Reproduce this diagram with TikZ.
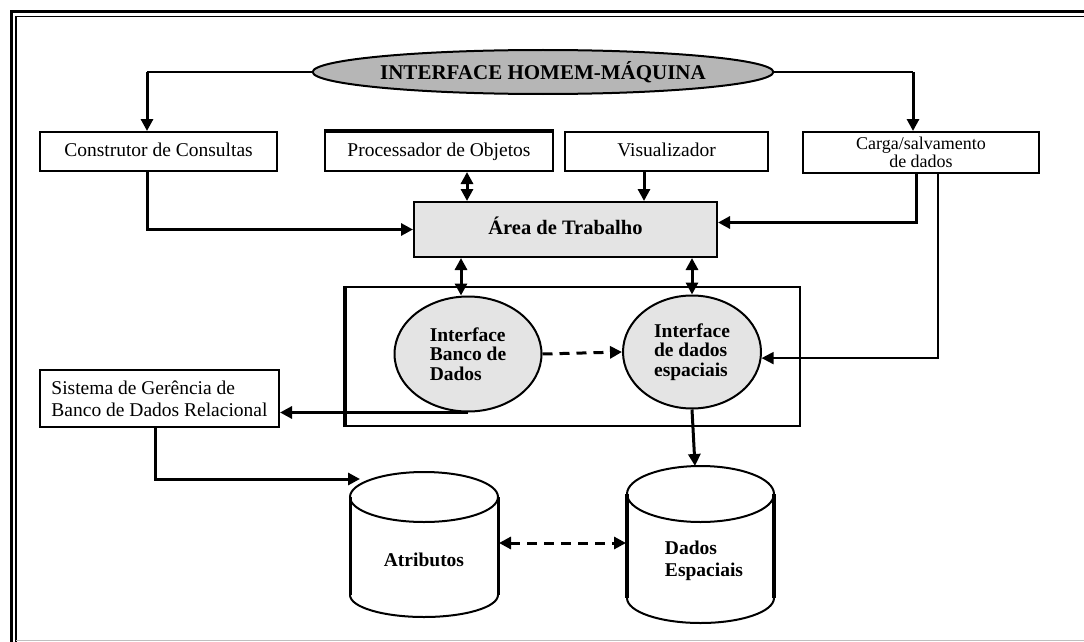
\documentclass[tikz,border=0pt]{standalone}
\usepackage{fontspec}
\setmainfont{Liberation Serif}
\usetikzlibrary{shapes.geometric,arrows.meta,backgrounds}
\definecolor{hmigray}{RGB}{182,182,182}
\definecolor{lightfill}{RGB}{228,228,228}
\begin{document}
\begin{tikzpicture}[x=1pt,y=-1pt,
  every node/.style={inner sep=0pt, text=black},
  txt/.style={font=\fontsize{19.5}{21}\selectfont},
  box/.style={draw, line width=2pt, rectangle, fill=white, txt},
  onebox/.style={box, text height=13.5pt, text depth=4.5pt},
  oval/.style={draw, line width=2pt, ellipse, fill=lightfill, align=left,
    font=\fontsize{19.5}{19.5}\selectfont\bfseries},
  tip/.style={-{Triangle[length=12pt,width=12pt]}},
  conn/.style={line width=3pt, tip},
  bconn/.style={line width=3pt, {Triangle[length=12pt,width=12pt]}-{Triangle[length=12pt,width=12pt]}},
  dconn/.style={line width=3pt, dash pattern=on 10pt off 7pt},
  cyl/.style={draw, line width=2pt, fill=white}
]
\useasboundingbox (0,0) rectangle (1084,642);
\fill[white] (0,0) rectangle (1084,642);
% frame
\draw[line width=3.5pt] (11.5,642) -- (11.5,11.5) -- (1084,11.5);
\draw[line width=1.2pt] (16,642) -- (16,16.5) -- (1084,16.5);
\draw[line width=1pt, black!25] (16,640.5) -- (1084,640.5);

% nodes
\node[draw, line width=2pt, ellipse, fill=hmigray, minimum width=380, minimum height=44,
  font=\fontsize{21}{23}\selectfont\bfseries] (hmi) at (543,72) {INTERFACE HOMEM-MÁQUINA};
\node[onebox, minimum width=237, minimum height=39] (cc) at (158.5,151.5) {Construtor de Consultas};
\node[onebox, minimum width=228, minimum height=39] (po) at (439,151.5) {Processador de Objetos};
\draw[line width=4pt] (po.north west) -- (po.north east);
\node[onebox, minimum width=203, minimum height=39] (vis) at (666.5,151.5) {Visualizador};
\node[box, minimum width=236, minimum height=41, align=center,
  font=\fontsize{18}{18.5}\selectfont] (carga) at (921,152.5) {Carga/salvamento\\de dados};
\node[onebox, fill=lightfill, minimum width=303, minimum height=55,
  font=\fontsize{20.5}{23}\selectfont\bfseries] (area) at (565.5,229.5) {Área de Trabalho};
\node[draw, line width=2pt, minimum width=454, minimum height=139] (cont) at (573,356.5) {};
\draw[line width=3.5pt] (cont.south west) -- (cont.north west);
\node[oval, minimum width=147, minimum height=115] (ibd) at (468,354) {Interface\\Banco de\\Dados};
\node[oval, minimum width=138, minimum height=113] (ide) at (692,352) {Interface\\de dados\\espaciais};
\node[box, minimum width=239, minimum height=57, align=left,
  font=\fontsize{19.5}{22}\selectfont] (sgbd) at (159.5,398.5) {Sistema de Gerência de\\Banco de Dados Relacional};

% cylinders
\draw[cyl] (350,497) -- (350,595) arc[start angle=180, end angle=0, x radius=74, y radius=22] -- (498,497);
\draw[cyl] (424,497) ellipse [x radius=74, y radius=25];
\draw[line width=3pt] (350,497) -- (350,595) (498,497) -- (498,595);
\node[txt, font=\fontsize{19.5}{21}\selectfont\bfseries] (atr) at (424,560) {Atributos};
\draw[cyl] (627,494) -- (627,598) arc[start angle=180, end angle=0, x radius=73.5, y radius=25] -- (774,494);
\draw[cyl] (700.5,494) ellipse [x radius=73.5, y radius=28];
\draw[line width=3.5pt] (627,494) -- (627,598) (774,494) -- (774,598);
\node[align=left, font=\fontsize{19.5}{22}\selectfont\bfseries] (dad) at (704,561) {Dados\\Espaciais};
\coordinate (atrin) at (360,479);
\coordinate (atrE) at (499,543);
\coordinate (dadW) at (626,543);
\coordinate (dadtop) at (695,466);

% connectors
\begin{pgfonlayer}{background}
\draw[line width=2pt] (hmi.center) -- (hmi.west);
\draw[line width=2pt] (hmi.center) -- (hmi.east);
\draw[conn] ([xshift=-2]po.north |- hmi.center) -- ([xshift=-2]po.north);
\draw[conn] ([xshift=-41.5]vis.north |- hmi.center) -- ([xshift=-41.5]vis.north);
\end{pgfonlayer}
\draw[line width=2pt] (hmi.west) -- ([xshift=-11.5]cc.north |- hmi.west);
\draw[conn] ([xshift=-11.5]cc.north |- hmi.west) -- ([xshift=-11.5]cc.north);
\draw[line width=2pt] (hmi.east) -- ([xshift=-8]carga.north |- hmi.east);
\draw[conn] ([xshift=-8]carga.north |- hmi.east) -- ([xshift=-8]carga.north);
\draw[conn] ([xshift=-11.5]cc.south) |- (area.west);
\draw[bconn] ([xshift=28]po.south) -- ([xshift=28]po.south |- area.north);
\draw[conn] ([xshift=-22.5]vis.south) -- ([xshift=-22.5]vis.south |- area.north);
\draw[conn] ([xshift=-5]carga.south) |- ([yshift=7]area.east);
\draw[line width=2pt, tip] ([xshift=17]carga.south) |- (ide.-5);
\draw[bconn] ([xshift=-7]ibd.north |- area.south) -- ([xshift=-7]ibd.north);
\draw[bconn] (ide.north |- area.south) -- (ide.north);
\draw[dconn, tip] (ibd.east) -- (ide.west);
\draw[conn] (ibd.south) -- (ibd.south -| sgbd.east);
\draw[conn] (ide.south) -- (dadtop);
\draw[conn] ([xshift=-4.5]sgbd.south) |- (atrin);
\draw[dconn, {Triangle[length=12pt,width=12pt]}-{Triangle[length=12pt,width=12pt]}] (atrE) -- (dadW);
\end{tikzpicture}
\end{document}
